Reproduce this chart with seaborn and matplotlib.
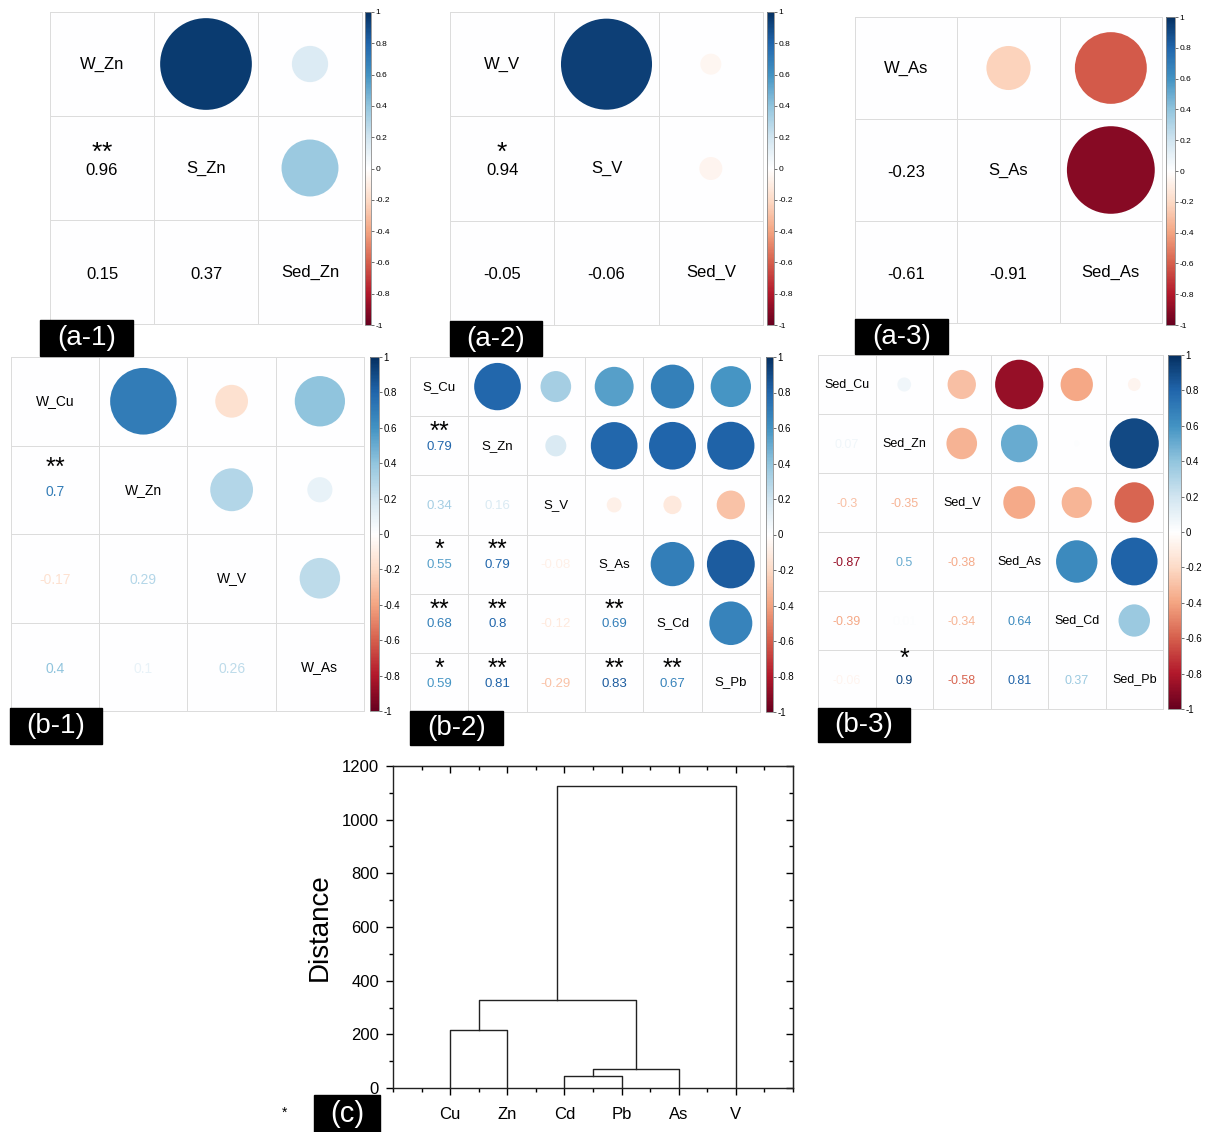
import numpy as np
import pandas as pd
import matplotlib
matplotlib.use("Agg")
import matplotlib.pyplot as plt
from matplotlib.colors import LinearSegmentedColormap
from matplotlib.patches import Circle, Rectangle
from matplotlib.ticker import FixedLocator
import seaborn as sns

W, H = 1211, 1132

# ---- correlation panels: lower triangle, row by row: (1,0),(2,0),(2,1),(3,0)...
a1_labels = ["W_Zn", "S_Zn", "Sed_Zn"]
a1_r = [0.96, 0.15, 0.37]
a1_sig = ["**", "", ""]

a2_labels = ["W_V", "S_V", "Sed_V"]
a2_r = [0.94, -0.05, -0.06]
a2_sig = ["*", "", ""]

a3_labels = ["W_As", "S_As", "Sed_As"]
a3_r = [-0.23, -0.61, -0.91]
a3_sig = ["", "", ""]

b1_labels = ["W_Cu", "W_Zn", "W_V", "W_As"]
b1_r = [0.7, -0.17, 0.29, 0.4, 0.1, 0.26]
b1_sig = ["**", "", "", "", "", ""]

b2_labels = ["S_Cu", "S_Zn", "S_V", "S_As", "S_Cd", "S_Pb"]
b2_r = [0.79,
        0.34, 0.16,
        0.55, 0.79, -0.08,
        0.68, 0.8, -0.12, 0.69,
        0.59, 0.81, -0.29, 0.83, 0.67]
b2_sig = ["**",
          "", "",
          "*", "**", "",
          "**", "**", "", "**",
          "*", "**", "", "**", "**"]

b3_labels = ["Sed_Cu", "Sed_Zn", "Sed_V", "Sed_As", "Sed_Cd", "Sed_Pb"]
b3_r = [0.07,
        -0.3, -0.35,
        -0.87, 0.5, -0.38,
        -0.39, 0.01, -0.34, 0.64,
        -0.06, 0.9, -0.58, 0.81, 0.37]
b3_sig = ["",
          "", "",
          "", "", "",
          "", "", "", "",
          "", "*", "", "", ""]

# ---- cluster dendrogram
leaves = ["Cu", "Zn", "Cd", "Pb", "As", "V"]
merge_a = [0, 2, 7, 6, 9]
merge_b = [1, 3, 4, 8, 5]
merge_h = [215, 45, 72, 328, 1125]

corr_colors = ["#67001F", "#B2182B", "#D6604D", "#F4A582", "#FDDBC7", "#FFFFFF",
               "#D1E5F0", "#92C5DE", "#4393C3", "#2166AC", "#053061"]
cmap = LinearSegmentedColormap.from_list("corr", corr_colors)

plt.rcParams['font.family'] = ['Liberation Sans', 'DejaVu Sans']
plt.rcParams['mathtext.fontset'] = 'custom'
plt.rcParams['mathtext.rm'] = 'Liberation Sans'


def px_rect(x, y, w, h):
    return [x / W, 1 - (y + h) / H, w / W, h / H]


def to_matrix(n, vals, fill):
    m = np.full((n, n), fill, dtype=object)
    k = 0
    for i in range(1, n):
        for j in range(i):
            m[i, j] = m[j, i] = vals[k]
            k += 1
    return m


def star_text(s):
    # tight mathtext box so the stars sit just above the number
    return r"$\mathrm{" + "".join("{*}" for _ in s) + "}$"


def corr_panel(fig, rect, cbar_rect, labels, r, sig, fs, star_fs, star_dy, colored, cbar_fs):
    ax = fig.add_axes(px_rect(*rect))
    cax = fig.add_axes(px_rect(*cbar_rect))
    n = len(labels)
    m = to_matrix(n, r, 1.0).astype(float)
    s = to_matrix(n, sig, "")
    sns.heatmap(np.zeros((n, n)), cmap=cmap, vmin=-1, vmax=1, ax=ax, cbar_ax=cax,
                linewidths=0.7, linecolor="#dcdcdc", xticklabels=False, yticklabels=False,
                cbar_kws={"ticks": np.round(np.linspace(-1, 1, 11), 1)})
    ax.collections[0].set_clip_on(False)
    for i in range(n):
        for j in range(n):
            cx, cy = j + 0.5, i + 0.5
            v = m[i, j]
            col = cmap((v + 1) / 2)
            if i == j:
                ax.text(cx, cy, labels[i], ha="center", va="center", fontsize=fs, color="black")
            elif j > i:
                ax.add_patch(Circle((cx, cy), 0.45 * np.sqrt(abs(v)), color=col, lw=0))
            else:
                ax.text(cx, cy + 0.02, f"{v:g}", ha="center", va="center", fontsize=fs,
                        color=col if colored else "black")
                if s[i, j]:
                    ax.text(cx, cy + star_dy, star_text(s[i, j]), ha="center", va="center",
                            fontsize=star_fs, color="black")
    cbar = ax.collections[0].colorbar
    cbar.outline.set_edgecolor("#8a8a8a")
    cbar.outline.set_linewidth(0.6)
    ticks = np.round(np.linspace(-1, 1, 11), 1)
    cax.set_yticks(ticks)
    cax.set_yticklabels([f"{t:g}" for t in ticks])
    cax.tick_params(labelsize=cbar_fs, length=2, width=0.6, color="#555555", pad=1)
    return ax


def tag(fig, x, y, w, h, text, fs=20):
    fig.patches.append(Rectangle((x / W, 1 - (y + h) / H), w / W, h / H,
                                 transform=fig.transFigure, color="black", zorder=10))
    fig.text((x + w / 2) / W, 1 - (y + h / 2) / H, text, color="white", fontsize=fs,
             ha="center", va="center", zorder=11)


fig = plt.figure(figsize=(W / 100, H / 100), dpi=100)

corr_panel(fig, (50, 12, 312, 312), (365, 12, 6, 313), a1_labels, a1_r, a1_sig, 12, 19, -0.16, False, 6)
corr_panel(fig, (450, 12, 313, 313), (767, 12, 7, 313), a2_labels, a2_r, a2_sig, 12, 19, -0.16, False, 6)
corr_panel(fig, (855, 17, 307, 306), (1166, 17, 9, 308), a3_labels, a3_r, a3_sig, 12, 19, -0.16, False, 6)
corr_panel(fig, (11, 357, 353, 354), (370, 357, 9, 354), b1_labels, b1_r, b1_sig, 10, 18, -0.26, True, 7)
corr_panel(fig, (410, 357, 350, 355), (766, 357, 7, 355), b2_labels, b2_r, b2_sig, 9.5, 18, -0.25, True, 7)
corr_panel(fig, (818, 355, 345, 354), (1168, 355, 13, 354), b3_labels, b3_r, b3_sig, 9, 18, -0.37, True, 7)

tag(fig, 40, 320, 93, 36, "(a-1)")
tag(fig, 450, 321, 92, 35, "(a-2)")
tag(fig, 855, 319, 93, 35, "(a-3)")
tag(fig, 10, 708, 92, 36, "(b-1)")
tag(fig, 410, 711, 93, 34, "(b-2)")
tag(fig, 818, 708, 92, 34, "(b-3)")
tag(fig, 314, 1095, 66, 37, "(c)", 21)
fig.text(285 / W, 1 - 1113 / H, "*", fontsize=10, ha="center", va="center")

# ---- dendrogram
axd = fig.add_axes(px_rect(393, 766, 400, 322))
pos = {i: float(i + 1) for i in range(len(leaves))}
hgt = {i: 0.0 for i in range(len(leaves))}
rows = []
for k, (a, b, h) in enumerate(zip(merge_a, merge_b, merge_h)):
    xs = [pos[a], pos[a], pos[b], pos[b]]
    ys = [hgt[a], h, h, hgt[b]]
    for xx, yy in zip(xs, ys):
        rows.append({"link": k, "x": xx, "y": yy})
    new = len(leaves) + k
    pos[new] = (pos[a] + pos[b]) / 2
    hgt[new] = h
links = pd.DataFrame(rows)
sns.lineplot(data=links, x="x", y="y", units="link", estimator=None, sort=False,
             color="#222222", lw=1.0, ax=axd)

axd.set_xlim(0, 7)
axd.set_ylim(0, 1200)
axd.set_xticks(np.arange(1, 7), leaves)
axd.xaxis.set_minor_locator(FixedLocator([0, 0.5, 1.5, 2.5, 3.5, 4.5, 5.5, 6.5, 7]))
axd.set_yticks(np.arange(0, 1201, 200))
axd.yaxis.set_minor_locator(FixedLocator(np.arange(100, 1200, 200)))
axd.tick_params(which="major", direction="out", length=5, width=1, labelsize=12)
axd.tick_params(which="minor", direction="out", length=3, width=1)
axd.tick_params(axis="x", pad=9)
axd.tick_params(axis="y", pad=5)
axd.set_xlabel("")
axd.set_ylabel("Distance", fontsize=20)
axd.yaxis.set_label_coords(-0.15, 0.5)
for sp in axd.spines.values():
    sp.set_linewidth(1.0)
    sp.set_color("#222222")

secx = axd.secondary_xaxis("top")
secx.set_xticks(np.arange(1, 7), labels=[])
secx.xaxis.set_minor_locator(FixedLocator([0.5, 1.5, 2.5, 3.5, 4.5, 5.5, 6.5]))
secx.tick_params(which="major", direction="in", length=5, width=1)
secx.tick_params(which="minor", direction="in", length=3, width=1)
secy = axd.secondary_yaxis("right")
secy.set_yticks(np.arange(0, 1201, 200), labels=[])
secy.yaxis.set_minor_locator(FixedLocator(np.arange(100, 1200, 200)))
secy.tick_params(which="major", direction="in", length=5, width=1)
secy.tick_params(which="minor", direction="in", length=3, width=1)

fig.savefig("out.png", dpi=100)
